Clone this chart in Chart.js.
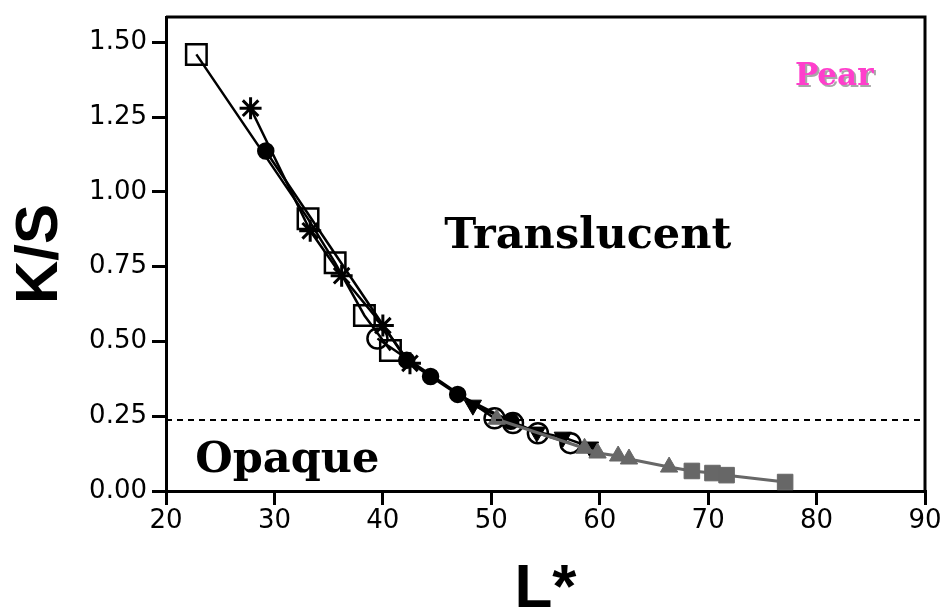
<!DOCTYPE html>
<html>
<head>
<meta charset="utf-8">
<script src="https://cdn.jsdelivr.net/npm/chart.js@4"></script>
<style>
  html, body { margin: 0; padding: 0; background: #fff; }
  #wrap { width: 947px; height: 616px; }
</style>
</head>
<body>
<div id="wrap"><canvas id="myChart" width="947" height="616"></canvas></div>
<script>
// values (L*, K/S)
const openSqL = [22.8, 33.1, 35.6, 38.3, 40.7];
const openSqKS = [1.46, 0.91, 0.763, 0.587, 0.47];

const starL = [27.8, 33.3, 36.2, 40.0, 42.5];
const starKS = [1.28, 0.87, 0.72, 0.553, 0.427];

const dotL = [29.2, 42.2, 44.4, 46.9, 51.8];
const dotKS = [1.137, 0.437, 0.383, 0.323, 0.233];

const downTriL = [48.3, 54.2, 56.6, 59.1];
const downTriKS = [0.287, 0.197, 0.18, 0.147];

const ringL = [39.5, 50.3, 52.0, 54.3, 57.3];
const ringKS = [0.51, 0.243, 0.227, 0.193, 0.16];

const grayTriL = [50.5, 58.6, 59.8, 61.7, 62.7, 66.4];
const grayTriKS = [0.24, 0.143, 0.127, 0.117, 0.107, 0.08];

const graySqL = [68.5, 70.4, 71.7, 77.1];
const graySqKS = [0.067, 0.06, 0.053, 0.03];

const opaqueLimit = 0.237;
const xTicks = [20, 30, 40, 50, 60, 70, 80, 90];
const yTicks = [0, 0.25, 0.5, 0.75, 1.0, 1.25, 1.5];

let pts = (xs, ys) => xs.map((v, i) => ({ x: v, y: ys[i] }));

const gray = '#676767';

// gray triangles and squares are one line
const grayData = pts(grayTriL, grayTriKS).concat(pts(graySqL, graySqKS));
const grayStyles = grayTriL.map(() => 'triangle').concat(graySqL.map(() => 'rect'));
const grayRadius = grayTriL.map(() => 10).concat(graySqL.map(() => 11));

const labels = {
    id: 'labels',
    afterDatasetsDraw(chart) {
        const ctx = chart.ctx;
        const a = chart.chartArea;
        const x = chart.scales.x, y = chart.scales.y;
        ctx.save();
        // frame top and right
        ctx.strokeStyle = '#000';
        ctx.lineWidth = 3;
        ctx.beginPath();
        ctx.moveTo(a.left, a.top);
        ctx.lineTo(a.right, a.top);
        ctx.lineTo(a.right, a.bottom);
        ctx.stroke();

        ctx.font = 'bold 43px "DejaVu Serif"';
        ctx.fillStyle = '#000';
        ctx.textBaseline = 'alphabetic';
        ctx.textAlign = 'center';
        ctx.fillText('Translucent', x.getPixelForValue(58.9), y.getPixelForValue(0.813));
        ctx.textAlign = 'left';
        ctx.fillText('Opaque', x.getPixelForValue(22.7), y.getPixelForValue(0.063));

        ctx.font = 'bold 31px "DejaVu Serif"';
        ctx.fillStyle = '#a8a8a8';
        ctx.fillText('Pear', x.getPixelForValue(78.0) + 2, y.getPixelForValue(1.357) + 2);
        ctx.fillStyle = '#ff3ecc';
        ctx.fillText('Pear', x.getPixelForValue(78.0), y.getPixelForValue(1.357));
        ctx.restore();
    }
};

const dataset = {
    datasets: [
        {
            label: 'limit',
            data: [{ x: 20, y: opaqueLimit }, { x: 90, y: opaqueLimit }],
            borderColor: '#000', borderWidth: 2, borderDash: [6, 5], pointRadius: 0
        },
        {
            label: 'gray',
            data: grayData,
            borderColor: gray, backgroundColor: gray, borderWidth: 3,
            pointStyle: grayStyles, pointRadius: grayRadius, pointBorderWidth: 1
        },
        {
            label: 'open squares',
            data: pts(openSqL, openSqKS),
            borderColor: '#000', backgroundColor: 'rgba(0,0,0,0)', borderWidth: 2.5,
            pointStyle: 'rect', pointRadius: 14.5, pointBorderWidth: 2.5
        },
        {
            label: 'stars',
            data: pts(starL, starKS),
            borderColor: '#000', backgroundColor: '#000', borderWidth: 2.5,
            pointStyle: 'star', pointRadius: 11, pointBorderWidth: 3
        },
        {
            label: 'dots',
            data: pts(dotL, dotKS),
            borderColor: '#000', backgroundColor: '#000', borderWidth: 2.5,
            pointStyle: 'circle', pointRadius: 7.5
        },
        {
            label: 'rings',
            data: pts(ringL, ringKS),
            borderColor: '#000', backgroundColor: 'rgba(0,0,0,0)', borderWidth: 2.5,
            pointStyle: 'circle', pointRadius: 10, pointBorderWidth: 2.5
        },
        {
            label: 'down triangles',
            data: pts(downTriL, downTriKS),
            borderColor: '#000', backgroundColor: '#000', borderWidth: 2.5,
            pointStyle: 'triangle', pointRotation: 180, pointRadius: 10, pointBorderWidth: 1
        }
    ]
};

const config = {
    type: 'line',
    data: dataset,
    options: {
        responsive: false,
        animation: false,
        layout: { padding: { left: 0, top: 8, right: 22, bottom: 0 } },
        plugins: { legend: { display: false }, tooltip: { enabled: false } },
        scales: {
            x: {
                type: 'linear', min: 20, max: 90,
                afterFit: (s) => { s.height = 125; s.paddingLeft = 0; s.paddingRight = 0; },
                afterBuildTicks: (s) => { s.ticks = xTicks.map(v => ({ value: v })); },
                border: { color: '#000', width: 3 },
                grid: { drawOnChartArea: false, color: '#000', lineWidth: 3, tickLength: 14 },
                ticks: { color: '#000', font: { family: 'DejaVu Sans', size: 26 }, padding: 1 },
                title: {
                    display: true, text: 'L*', color: '#000',
                    font: { family: 'Liberation Sans', size: 62, weight: 'bold', lineHeight: 0.85 },
                    padding: 0
                }
            },
            y: {
                type: 'linear', min: 0, max: 1.585,
                afterFit: (s) => { s.width = 166; s.paddingTop = 0; s.paddingBottom = 0; },
                afterBuildTicks: (s) => { s.ticks = yTicks.map(v => ({ value: v })); },
                border: { color: '#000', width: 3 },
                grid: { drawOnChartArea: false, color: '#000', lineWidth: 3, tickLength: 14 },
                ticks: {
                    color: '#000', font: { family: 'DejaVu Sans', size: 26 }, padding: 5,
                    callback: (v) => Number(v).toFixed(2)
                },
                title: {
                    display: true, text: 'K/S', color: '#000',
                    font: { family: 'Liberation Sans', size: 60, weight: 'bold', lineHeight: 1.2 },
                    padding: { top: 4, bottom: 0 }
                }
            }
        }
    },
    plugins: [labels]
};

const chart = new Chart(document.getElementById('myChart'), config);
</script>
</body>
</html>
